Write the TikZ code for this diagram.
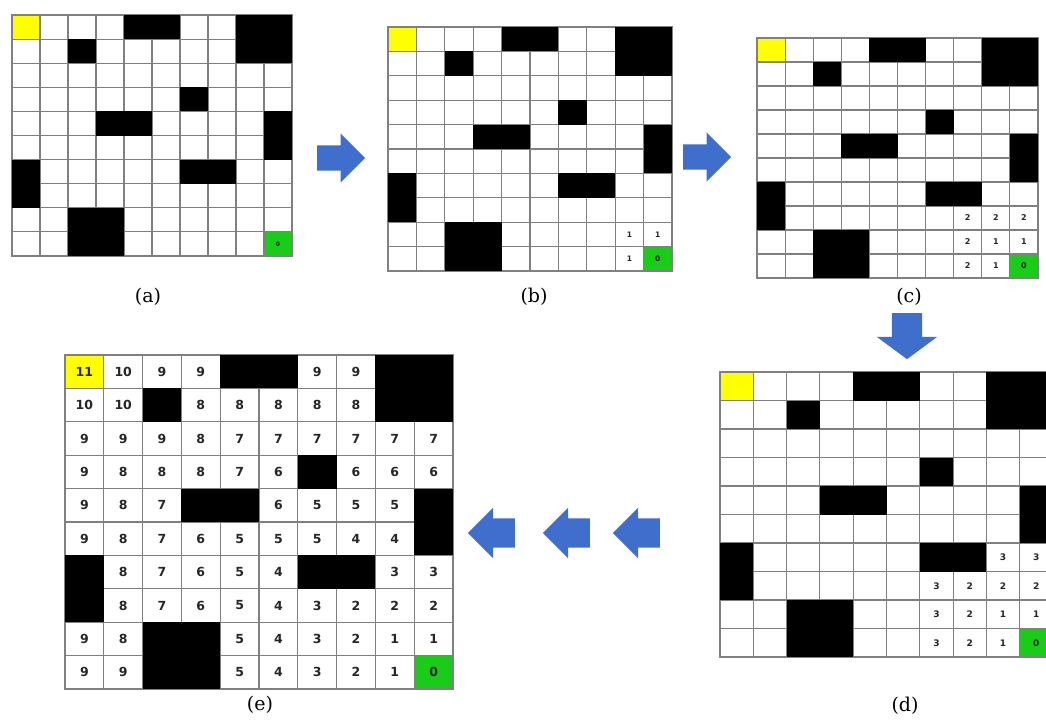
\documentclass[tikz,border=0pt]{standalone}
\usepackage{fontspec}
\usepackage{tikz}
\usetikzlibrary{shapes.arrows}
\newfontfamily\numfont{DejaVu Sans}
\newfontfamily\capfont{DejaVu Serif}
\definecolor{startyellow}{RGB}{255,255,0}
\definecolor{goalgreen}{RGB}{24,204,24}
\definecolor{arrowblue}{RGB}{64,110,204}
\definecolor{gridgray}{RGB}{128,128,128}

% empty maze: start, goal, grid lines, walls
\newcommand\mazegrid{%
  \fill[white] (0,0) rectangle (10,10);
  \fill[startyellow] (0,0) rectangle (1,1);
  \fill[goalgreen] (9,9) rectangle (10,10);
  \foreach \i in {0,...,10} {
    \draw[gridline] (\i,0) -- (\i,10);
    \draw[gridline] (0,\i) -- (10,\i);
  }
  \foreach \xa/\ya/\xb/\yb in {4/0/6/1, 8/0/10/2, 2/1/3/2, 6/3/7/4, 3/4/5/5,
                               9/4/10/6, 6/6/8/7, 0/6/1/8, 2/8/4/10}
    \fill[wall] (\xa,\ya) rectangle (\xb,\yb);
}

% distance values: col/row/value
\newcommand\mazenums[3]{%
  \foreach \c/\r/\v in {#3}
    \node[num, font=\numfont\bfseries\fontsize{#2}{#2}\selectfont]
      (#1-\r-\c) at (\c+0.5,\r+0.5) {\v};
}

\begin{document}
\begin{tikzpicture}[
  x=1pt, y=-1pt,
  gridline/.style={draw=gridgray, line width=1.1pt, line cap=rect},
  wall/.style={fill=black},
  num/.style={inner sep=0pt, text=black!85},
  blockarrow/.style={single arrow, fill=arrowblue, draw=none,
                     inner xsep=0pt, inner ysep=12.5pt,
                     single arrow head extend=12pt, minimum height=48pt},
  sublabel/.style={font=\capfont\fontsize{19}{19}\selectfont, inner sep=0pt}
]
\useasboundingbox (0,0) rectangle (1046,720);
\clip (0,0) rectangle (1046,720);

% (a) start and goal only
\begin{scope}[shift={(12,15)}, x=28pt, y=-24.1pt]
  \mazegrid
  \mazenums{a}{6}{9/9/0}
\end{scope}

% (b)
\begin{scope}[shift={(388,27)}, x=28.4pt, y=-24.4pt]
  \mazegrid
  \mazenums{b}{7.5}{8/8/1, 9/8/1, 8/9/1, 9/9/0}
\end{scope}

% (c)
\begin{scope}[shift={(757,38)}, x=28.1pt, y=-24pt]
  \mazegrid
  \mazenums{c}{8}{7/7/2, 8/7/2, 9/7/2, 7/8/2, 8/8/1, 9/8/1, 7/9/2, 8/9/1, 9/9/0}
\end{scope}

% (d) runs off the right edge
\begin{scope}[shift={(720,372)}, x=33.3pt, y=-28.5pt]
  \mazegrid
  \mazenums{d}{9}{8/6/3, 9/6/3, 6/7/3, 7/7/2, 8/7/2, 9/7/2,
                  6/8/3, 7/8/2, 8/8/1, 9/8/1, 6/9/3, 7/9/2, 8/9/1, 9/9/0}
\end{scope}

% (e) all distances, x = wall
\begin{scope}[shift={(65,355)}, x=38.8pt, y=-33.4pt]
  \mazegrid
  \foreach \vals [count=\r from 0] in {
      {11,10,9,9,x,x,9,9,x,x}, {10,10,x,8,8,8,8,8,x,x},
      {9,9,9,8,7,7,7,7,7,7},   {9,8,8,8,7,6,x,6,6,6},
      {9,8,7,x,x,6,5,5,5,x},   {9,8,7,6,5,5,5,4,4,x},
      {x,8,7,6,5,4,x,x,3,3},   {x,8,7,6,5,4,3,2,2,2},
      {9,8,x,x,5,4,3,2,1,1},   {9,9,x,x,5,4,3,2,1,0}}
    \foreach \v [count=\c from 0] in \vals {
      \if x\v\else
        \node[num, font=\numfont\bfseries\fontsize{12.5}{12.5}\selectfont]
          (e-\r-\c) at (\c+0.5,\r+0.5) {\v};
      \fi
    };
\end{scope}

\node[sublabel] (lbl-a) at (148,297) {(a)};
\node[sublabel] (lbl-b) at (534,297) {(b)};
\node[sublabel] (lbl-c) at (909,297) {(c)};
\node[sublabel] (lbl-d) at (905,706) {(d)};
\node[sublabel] (lbl-e) at (260,705) {(e)};

\node[blockarrow, anchor=tail] (ab) at (317,158) {};
\node[blockarrow, anchor=tail] (bc) at (683,157) {};
\node[blockarrow, anchor=tail, shape border rotate=270, inner xsep=15pt, inner ysep=0pt,
      single arrow head extend=15pt, single arrow tip angle=107, minimum height=46pt]
  (cd) at (907,313) {};
\foreach \t in {660,590,515}
  \node[blockarrow, anchor=tail, shape border rotate=180, inner ysep=14.5pt,
        single arrow head extend=10.5pt, minimum height=47pt] (de-\t) at (\t,533) {};
\end{tikzpicture}
\end{document}
